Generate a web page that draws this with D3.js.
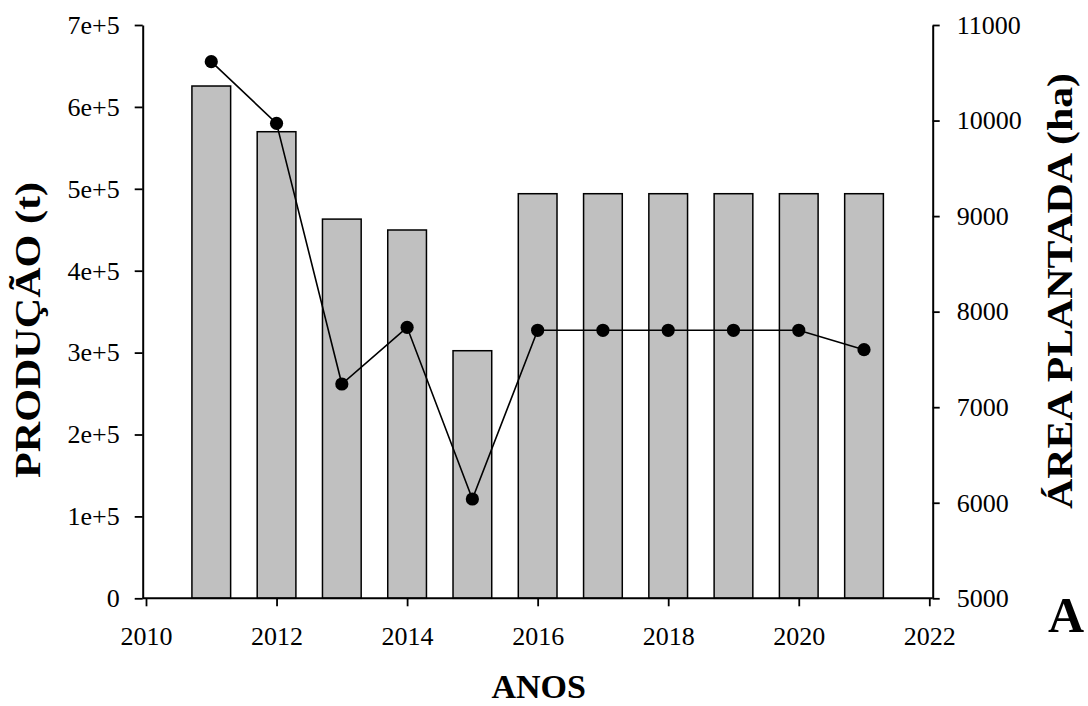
<!DOCTYPE html>
<html>
<head>
<meta charset="utf-8">
<script src="https://cdn.jsdelivr.net/npm/d3@7"></script>
<style>
  html, body { margin: 0; padding: 0; background: #fff; }
  svg { display: block; }
  text { font-family: "Liberation Serif", "Times New Roman", serif; fill: #000; }
</style>
</head>
<body>
<svg id="chart" width="1088" height="706"></svg>
<script>
// Production (t) and planted area (ha), yearly
const years = [2011, 2012, 2013, 2014, 2015, 2016, 2017, 2018, 2019, 2020, 2021];
const producao = [625500, 569700, 463000, 449700, 302300, 494000, 494000, 494000, 494000, 494000, 494000];
const areaPlantada = [10616, 9971, 7243, 7836, 6039, 7805, 7805, 7805, 7805, 7805, 7602];

const xTicks = [2010, 2012, 2014, 2016, 2018, 2020, 2022];
const leftTicks = [0, 100000, 200000, 300000, 400000, 500000, 600000, 700000];
const leftTickLabels = ["0", "1e+5", "2e+5", "3e+5", "4e+5", "5e+5", "6e+5", "7e+5"];
const rightTicks = [5000, 6000, 7000, 8000, 9000, 10000, 11000];

const svg = d3.select("#chart");

const plot = { left: 142.7, right: 932.7, top: 25, bottom: 598.3 };
const barWidthYears = 0.593;

const x = d3.scaleLinear().domain([2010, 2022]).range([146, 929.3]);
const yL = d3.scaleLinear().domain([0, 700000]).range([plot.bottom, plot.top]);
const yR = d3.scaleLinear().domain([5000, 11000]).range([plot.bottom, plot.top]);

// bars: production
const barW = x(2010 + barWidthYears) - x(2010);
svg.append("g")
  .selectAll("rect")
  .data(years)
  .join("rect")
  .attr("x", (d) => x(d) - barW / 2)
  .attr("y", (d, i) => yL(producao[i]))
  .attr("width", barW)
  .attr("height", (d, i) => yL(0) - yL(producao[i]))
  .attr("fill", "#c0c0c0")
  .attr("stroke", "#000")
  .attr("stroke-width", 1.5);

// line + markers: planted area
const line = d3.line()
  .x((d) => x(d))
  .y((d, i) => yR(areaPlantada[i]));
svg.append("path")
  .datum(years)
  .attr("d", line)
  .attr("fill", "none")
  .attr("stroke", "#000")
  .attr("stroke-width", 1.6);
svg.append("g")
  .selectAll("circle")
  .data(years)
  .join("circle")
  .attr("cx", (d) => x(d))
  .attr("cy", (d, i) => yR(areaPlantada[i]))
  .attr("r", 6.6)
  .attr("fill", "#000");

const tickFont = 26;

// left axis
const gL = svg.append("g")
  .attr("transform", `translate(${plot.left},0)`)
  .call(d3.axisLeft(yL)
    .tickValues(leftTicks)
    .tickFormat((d, i) => leftTickLabels[i])
    .tickSize(8)
    .tickSizeOuter(0)
    .tickPadding(15));

// right axis
const gR = svg.append("g")
  .attr("transform", `translate(${plot.right},0)`)
  .call(d3.axisRight(yR)
    .tickValues(rightTicks)
    .tickFormat(d3.format("d"))
    .tickSize(7)
    .tickSizeOuter(0)
    .tickPadding(17));

// bottom axis
const gB = svg.append("g")
  .attr("transform", `translate(0,${plot.bottom})`)
  .call(d3.axisBottom(x)
    .tickValues(xTicks)
    .tickFormat(d3.format("d"))
    .tickSize(8)
    .tickSizeOuter(0)
    .tickPadding(20));
gB.select(".domain").remove();
gB.append("line")
  .attr("x1", plot.left).attr("x2", plot.right)
  .attr("y1", 0).attr("y2", 0)
  .attr("stroke", "#000").attr("stroke-width", 2);

[gL, gR, gB].forEach((g) => {
  g.attr("font-family", null).attr("font-size", null);
  g.selectAll(".domain").attr("stroke", "#000").attr("stroke-width", 2);
  g.selectAll(".tick line").attr("stroke", "#000").attr("stroke-width", 1.8);
  g.selectAll(".tick text")
    .style("font-family", "'Liberation Serif', 'Times New Roman', serif")
    .style("font-size", tickFont + "px")
    .attr("fill", "#000");
});

// axis titles
svg.append("text")
  .attr("x", (plot.left + plot.right) / 2 + 1)
  .attr("y", 698)
  .attr("text-anchor", "middle")
  .style("font-size", "34px")
  .style("font-weight", "bold")
  .text("ANOS");

svg.append("text")
  .attr("transform", "translate(40,330) rotate(-90)")
  .attr("text-anchor", "middle")
  .attr("textLength", 296)
  .attr("lengthAdjust", "spacingAndGlyphs")
  .style("font-size", "35px")
  .style("font-weight", "bold")
  .text("PRODUÇÃO (t)");

svg.append("text")
  .attr("transform", "translate(1072,291) rotate(-90)")
  .attr("text-anchor", "middle")
  .attr("textLength", 436)
  .attr("lengthAdjust", "spacingAndGlyphs")
  .style("font-size", "35px")
  .style("font-weight", "bold")
  .text("ÁREA PLANTADA (ha)");

// panel letter
svg.append("text")
  .attr("x", 1048)
  .attr("y", 632)
  .style("font-size", "50px")
  .style("font-weight", "bold")
  .text("A");
</script>
</body>
</html>
